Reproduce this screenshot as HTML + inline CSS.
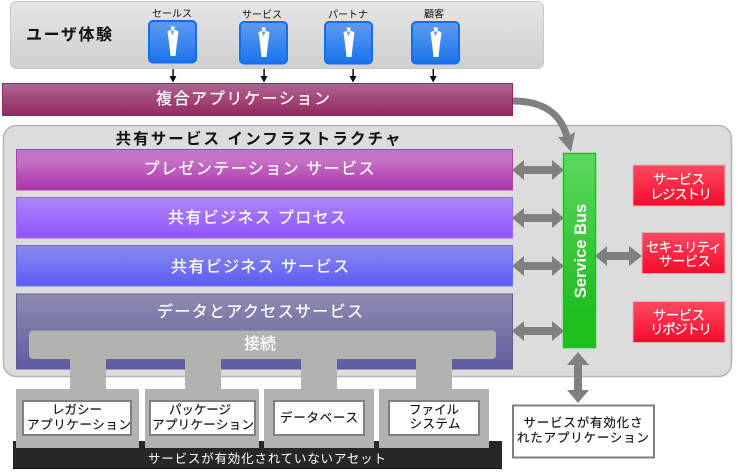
<!DOCTYPE html>
<html><head><meta charset="utf-8"><style>
html,body{margin:0;padding:0;background:#fff}
svg{display:block}
text{font-family:"Liberation Sans","Noto Sans CJK JP",sans-serif;text-anchor:middle}
.w{fill:#fff;font-size:16px;stroke:#fff;stroke-width:.25px}
.k{fill:#111;font-size:12.5px;stroke:#111;stroke-width:.15px}
.r{fill:#fff;font-size:13.5px;stroke:#fff;stroke-width:.15px}
</style></head><body>
<svg width="737" height="472" viewBox="0 0 737 472" xmlns="http://www.w3.org/2000/svg">
<defs>
<linearGradient id="gu" x1="0" y1="0" x2="0" y2="1"><stop offset="0" stop-color="#e6e6e6"/><stop offset="1" stop-color="#cfcfcf"/></linearGradient>
<linearGradient id="gc" x1="0" y1="0" x2="0" y2="1"><stop offset="0" stop-color="#b06590"/><stop offset="1" stop-color="#93285f"/></linearGradient>
<linearGradient id="g1" x1="0" y1="0" x2="0" y2="1"><stop offset="0" stop-color="#c773c7"/><stop offset="0.3" stop-color="#c56fc5"/><stop offset="1" stop-color="#aa33aa"/></linearGradient>
<linearGradient id="g2" x1="0" y1="0" x2="0" y2="1"><stop offset="0" stop-color="#ad85fb"/><stop offset="1" stop-color="#9055fb"/></linearGradient>
<linearGradient id="g3" x1="0" y1="0" x2="0" y2="1"><stop offset="0" stop-color="#8b8bee"/><stop offset="1" stop-color="#5c5cf5"/></linearGradient>
<linearGradient id="g4" x1="0" y1="0" x2="0" y2="1"><stop offset="0" stop-color="#8e8bb0"/><stop offset="1" stop-color="#5f5c9e"/></linearGradient>
<linearGradient id="gg" x1="0" y1="0" x2="0" y2="1"><stop offset="0" stop-color="#5fd75f"/><stop offset="0.8" stop-color="#20bf20"/><stop offset="1" stop-color="#1fbf1f"/></linearGradient>
<linearGradient id="gr" x1="0" y1="0" x2="0" y2="1"><stop offset="0" stop-color="#fb4a62"/><stop offset="1" stop-color="#f70a2a"/></linearGradient>
<linearGradient id="gb" x1="0" y1="0" x2="0" y2="1"><stop offset="0" stop-color="#5f9cee"/><stop offset="1" stop-color="#1a73ec"/></linearGradient>
</defs>

<!-- user experience -->
<rect x="10.500" y="1.500" width="533" height="67" rx="6" fill="url(#gu)" stroke="#c9c9c9"/>
<text x="69" y="40" style="font-size:16px;font-weight:700" fill="#111" textLength="86" lengthAdjust="spacing">ユーザ体験</text>
<text x="172" y="17" class="k" style="font-size:10px;stroke-width:0">セールス</text>
<text x="262" y="18" class="k" style="font-size:10px;stroke-width:0">サービス</text>
<text x="348" y="18" class="k" style="font-size:10px;stroke-width:0">パートナ</text>
<text x="434" y="17.500" class="k" style="font-size:10px;stroke-width:0">顧客</text>

<g><rect x="149" y="21" width="47" height="41.500" rx="4" fill="url(#gb)" stroke="#0f6fee" stroke-width="2"/>
<path d="M170.500 26.500h4v3.500h1.500l2.500 1.500-1.500 11-1.500 13.500h-5l-1.500-13.500-1.500-11 2.500-1.500h1.500z" fill="#fff"/><path d="M170.500 30.500h4l-2 5z" fill="#6ba4ee"/></g>
<g transform="translate(91,1)"><rect x="149" y="21" width="47" height="41.500" rx="4" fill="url(#gb)" stroke="#0f6fee" stroke-width="2"/>
<path d="M170.500 26.500h4v3.500h1.500l2.500 1.500-1.500 11-1.500 13.500h-5l-1.500-13.500-1.500-11 2.500-1.500h1.500z" fill="#fff"/><path d="M170.500 30.500h4l-2 5z" fill="#6ba4ee"/></g>
<g transform="translate(176,1)"><rect x="149" y="21" width="47" height="41.500" rx="4" fill="url(#gb)" stroke="#0f6fee" stroke-width="2"/>
<path d="M170.500 26.500h4v3.500h1.500l2.500 1.500-1.500 11-1.500 13.500h-5l-1.500-13.500-1.500-11 2.500-1.500h1.500z" fill="#fff"/><path d="M170.500 30.500h4l-2 5z" fill="#6ba4ee"/></g>
<g transform="translate(263,1)"><rect x="149" y="21" width="47" height="41.500" rx="4" fill="url(#gb)" stroke="#0f6fee" stroke-width="2"/>
<path d="M170.500 26.500h4v3.500h1.500l2.500 1.500-1.500 11-1.500 13.500h-5l-1.500-13.500-1.500-11 2.500-1.500h1.500z" fill="#fff"/><path d="M170.500 30.500h4l-2 5z" fill="#6ba4ee"/></g>

<g fill="#000" stroke="none">
<rect x="172.400" y="69" width="1.400" height="9"/><path d="M169.500 76h7l-3.500 6.500z"/>
<rect x="263.400" y="69" width="1.400" height="9"/><path d="M260.500 76h7l-3.500 6.500z"/>
<rect x="352.400" y="69" width="1.400" height="9"/><path d="M349.500 76h7l-3.500 6.500z"/>
<rect x="432.600" y="69" width="1.400" height="9"/><path d="M429.700 76h7l-3.500 6.500z"/>
</g>

<!-- composite -->
<rect x="2.500" y="83.500" width="510" height="32" fill="url(#gc)" stroke="#93285f"/>
<text x="243" y="104" class="w" textLength="174" lengthAdjust="spacing">複合アプリケーション</text>

<!-- shared -->
<rect x="3.500" y="125.500" width="728" height="251" rx="13" fill="#dcdcdc" stroke="#b4b4b4" stroke-width="1.500"/>
<text x="258" y="144" style="font-size:15.500px;font-weight:700" fill="#111" textLength="285" lengthAdjust="spacing">共有サービス インフラストラクチャ</text>

<!-- curve -->
<path d="M513 101 C542 101 561 113 567 137" fill="none" stroke="#808080" stroke-width="7"/>
<path d="M558 137 L571 152 L575 132 L567 137 Z" fill="#808080"/>

<!-- bars -->
<rect x="16.500" y="149.500" width="496" height="40.500" fill="url(#g1)" stroke="#b23fb2"/>
<text x="259" y="174" class="w" textLength="231" lengthAdjust="spacing">プレゼンテーション サービス</text>
<rect x="16.500" y="197.500" width="496" height="40.500" fill="url(#g2)" stroke="#9a66fa"/>
<text x="257" y="223" class="w" textLength="178" lengthAdjust="spacing">共有ビジネス プロセス</text>
<rect x="16.500" y="245.500" width="496" height="40.500" fill="url(#g3)" stroke="#6a6af5"/>
<text x="260" y="272" class="w" textLength="178" lengthAdjust="spacing">共有ビジネス サービス</text>
<rect x="16.500" y="294" width="496" height="75" fill="url(#g4)" stroke="#5f5c9e"/>
<text x="260" y="317" class="w" textLength="206" lengthAdjust="spacing">データとアクセスサービス</text>

<!-- connect -->
<rect x="29" y="330.500" width="467" height="28.500" rx="4" fill="#b2b3b0"/>
<text x="260" y="349" class="w">接続</text>
<g fill="#b2b3b0">
<rect x="70" y="358" width="36" height="32"/>
<rect x="185" y="358" width="36" height="32"/>
<rect x="301" y="358" width="36" height="32"/>
<rect x="416" y="358" width="36" height="32"/>
</g>

<!-- black bar -->
<rect x="13" y="441" width="489" height="28" fill="#272727"/>
<rect x="13" y="468" width="489" height="1" fill="#111"/>
<text x="267" y="463" fill="#fff" style="font-size:12.500px" textLength="238" lengthAdjust="spacing">サービスが有効化されていないアセット</text>

<!-- asset boxes -->
<g fill="#b2b3b0">
<rect x="16" y="389" width="123" height="59"/>
<rect x="145" y="389" width="114" height="59"/>
<rect x="264" y="389" width="110" height="59"/>
<rect x="379" y="389" width="110" height="59"/>
</g>
<g fill="#fff" stroke="#808080" stroke-width="2">
<rect x="23" y="401" width="108" height="34"/>
<rect x="150" y="401" width="105" height="34"/>
<rect x="274" y="401" width="90" height="34"/>
<rect x="389" y="401" width="90" height="34"/>
</g>
<text x="77" y="414" class="k" textLength="50" lengthAdjust="spacing">レガシー</text>
<text x="79" y="429" class="k" textLength="104" lengthAdjust="spacing">アプリケーション</text>
<text x="200" y="414" class="k" textLength="62" lengthAdjust="spacing">パッケージ</text>
<text x="203" y="429" class="k" textLength="102" lengthAdjust="spacing">アプリケーション</text>
<text x="319" y="422" class="k" textLength="78" lengthAdjust="spacing">データベース</text>
<text x="434" y="414" class="k" textLength="50" lengthAdjust="spacing">ファイル</text>
<text x="435" y="428" class="k" textLength="51" lengthAdjust="spacing">システム</text>

<!-- green bus -->
<rect x="563.500" y="153.500" width="32" height="194" fill="url(#gg)" stroke="#1fbf1f" stroke-width="1.500"/>
<text transform="translate(586,251) rotate(-90)" fill="#fff" style="font-size:16.500px;font-weight:700">Service Bus</text>

<!-- double arrows -->
<g fill="#808080">
<path d="M512 170 L524 160 V166 H552 V160 L564 170 L552 180 V174 H524 V180Z"/>
<path d="M512 218 L524 208 V214 H552 V208 L564 218 L552 228 V222 H524 V228Z"/>
<path d="M512 266 L524 256 V262 H552 V256 L564 266 L552 276 V270 H524 V276Z"/>
<path d="M512 331 L524 321 V327 H552 V321 L564 331 L552 341 V335 H524 V341Z"/>
<path d="M595 256 L607 246 V252 H629 V246 L642 256 L629 266 V260 H607 V266Z"/>
<path d="M578 352 L589 365 H582 V390 H589 L578 403 L567 390 H574 V365 H567Z"/>
</g>

<!-- red -->
<rect x="633" y="165" width="92" height="41" fill="url(#gr)" stroke="#dfb0b8"/>
<text x="679" y="184" class="r" textLength="52" lengthAdjust="spacing">サービス</text>
<text x="681" y="199" class="r" textLength="62" lengthAdjust="spacing">レジストリ</text>
<rect x="642" y="232.500" width="83" height="41" fill="url(#gr)" stroke="#dfb0b8"/>
<text x="684" y="252" class="r" textLength="76" lengthAdjust="spacing">セキュリティ</text>
<text x="685" y="266" class="r" textLength="52" lengthAdjust="spacing">サービス</text>
<rect x="633" y="301.500" width="92" height="41" fill="url(#gr)" stroke="#dfb0b8"/>
<text x="679" y="320" class="r" textLength="52" lengthAdjust="spacing">サービス</text>
<text x="681" y="334" class="r" textLength="62" lengthAdjust="spacing">リポジトリ</text>

<!-- app box -->
<rect x="513" y="405.500" width="141" height="52" fill="#fff" stroke="#808080" stroke-width="2"/>
<text x="583" y="427" class="k" textLength="119" lengthAdjust="spacing">サービスが有効化さ</text>
<text x="583" y="442" class="k" textLength="132" lengthAdjust="spacing">れたアプリケーション</text>
</svg>
</body></html>
